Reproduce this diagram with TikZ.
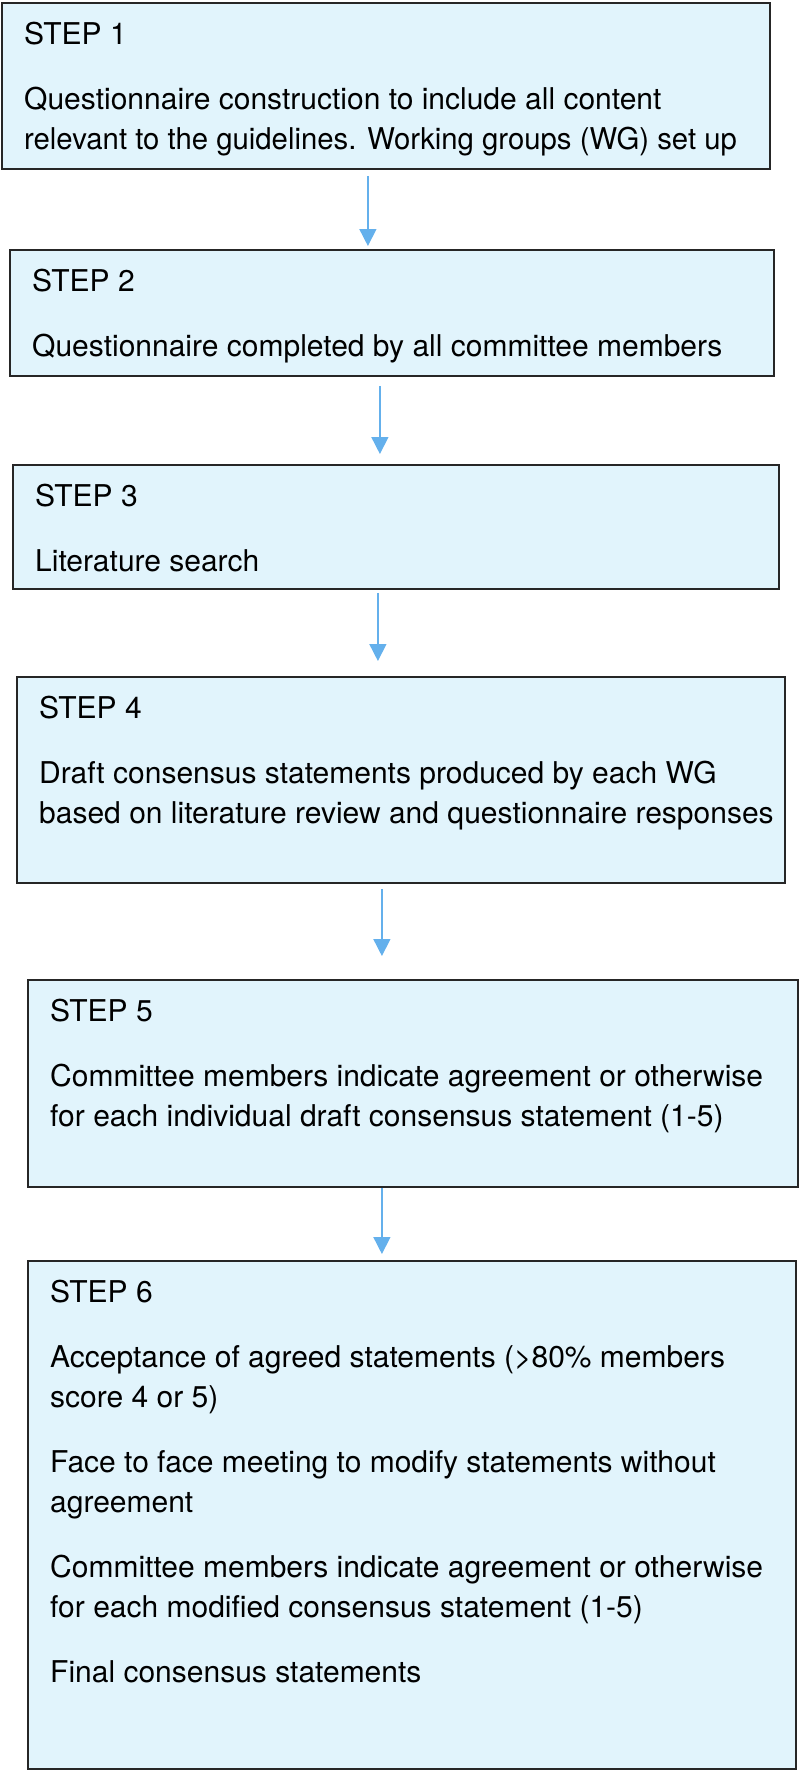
\documentclass[tikz,border=0pt]{standalone}
\usepackage{fontspec}
\setmainfont{TeX Gyre Heros}
\usepackage{tikz}
\usepackage{xcolor}
\usetikzlibrary{arrows.meta}

\definecolor{boxfill}{RGB}{225,244,252}
\definecolor{arrowblue}{RGB}{100,176,236}

\begin{document}
\begin{tikzpicture}[x=1pt,y=-1pt,
    stepbox/.style={draw=black!85, line width=1.8pt, fill=boxfill, anchor=north west, inner sep=0pt},
    steptext/.style={anchor=north west, inner sep=0pt, align=left, font=\fontsize{30}{40}\selectfont},
    flow/.style={draw=arrowblue, line width=1.5pt, -{Triangle[width=17pt,length=17pt]}}]
    \useasboundingbox (0,0) rectangle (799,1770);
    % boxes
    \node[stepbox, minimum width=768pt, minimum height=166pt] (s1) at (1,2) {};
    \node[stepbox, minimum width=764pt, minimum height=126pt] (s2) at (9,249) {};
    \node[stepbox, minimum width=766pt, minimum height=124pt] (s3) at (12,464) {};
    \node[stepbox, minimum width=768pt, minimum height=206pt] (s4) at (16,676) {};
    \node[stepbox, minimum width=770pt, minimum height=207pt] (s5) at (27,979) {};
    \node[stepbox, minimum width=768pt, minimum height=508pt] (s6) at (27,1260) {};
    % texts
    \node[steptext] (t1) at (24,22) {STEP 1\\[25pt]Questionnaire construction to include all content\\\scalebox{0.977}[1]{relevant to the guidelines. Working groups (WG) set up}};
    \node[steptext] (t2) at (32,269) {STEP 2\\[25pt]Questionnaire completed by all committee members};
    \node[steptext] (t3) at (35,484) {STEP 3\\[25pt]Literature search};
    \node[steptext] (t4) at (39,696) {STEP 4\\[25pt]Draft consensus statements produced by each WG\\based on literature review and questionnaire responses};
    \node[steptext] (t5) at (50,999) {STEP 5\\[25pt]Committee members indicate agreement or otherwise\\for each individual draft consensus statement (1-5)};
    \node[steptext] (t6) at (50,1280) {STEP 6\\[25pt]Acceptance of agreed statements (>80\% members\\score 4 or 5)\\[25pt]Face to face meeting to modify statements without\\agreement\\[25pt]Committee members indicate agreement or otherwise\\for each modified consensus statement (1-5)\\[25pt]Final consensus statements};
    % arrows
    \draw[flow, shorten <=6pt, shorten >=3pt] ([xshift=-18pt]s1.south) -- ([xshift=-18pt]s1.south |- s2.north);
    \draw[flow, shorten <=9pt, shorten >=10pt] ([xshift=-12pt]s2.south) -- ([xshift=-12pt]s2.south |- s3.north);
    \draw[flow, shorten <=3pt, shorten >=15pt] ([xshift=-18pt]s3.south) -- ([xshift=-18pt]s3.south |- s4.north);
    \draw[flow, shorten <=5pt, shorten >=23pt] ([xshift=-19pt]s4.south) -- ([xshift=-19pt]s4.south |- s5.north);
    \draw[flow, shorten >=6pt] ([xshift=-31pt]s5.south) -- ([xshift=-31pt]s5.south |- s6.north);
\end{tikzpicture}
\end{document}
